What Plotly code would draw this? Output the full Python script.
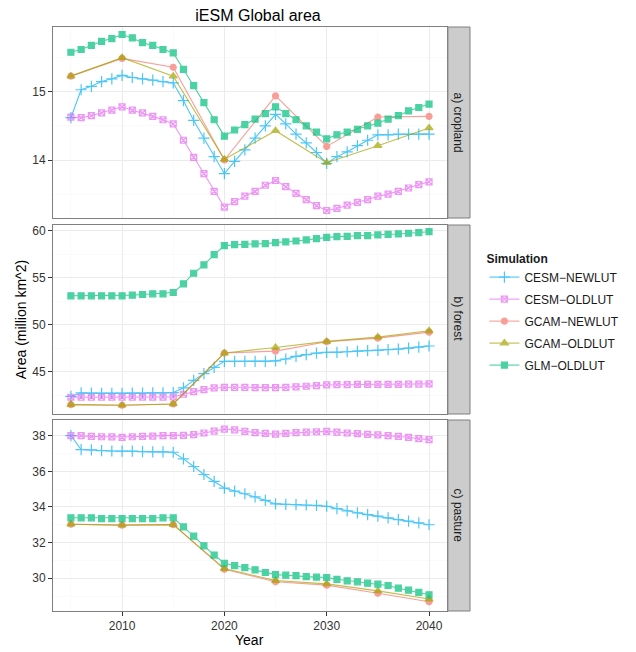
import plotly.graph_objects as go

# ---------------- data ----------------
years = list(range(2005, 2041))
gcam_years = [2005, 2010, 2015, 2020, 2025, 2030, 2035, 2040]

crop_cesm_new = [14.62, 15.03, 15.08, 15.15, 15.19, 15.24, 15.21, 15.19, 15.17, 15.15, 15.13,
                 14.87, 14.58, 14.32, 14.05, 13.80, 13.98, 14.15, 14.32, 14.50, 14.67,
                 14.53, 14.38, 14.25, 14.11, 13.95, 14.05, 14.12, 14.21, 14.29, 14.37,
                 14.37, 14.38, 14.38, 14.38, 14.38]
crop_cesm_old = [14.63, 14.62, 14.65, 14.69, 14.73, 14.78, 14.73, 14.69, 14.64, 14.59, 14.53,
                 14.29, 14.04, 13.80, 13.54, 13.31, 13.39, 13.47, 13.54, 13.63, 13.70,
                 13.61, 13.51, 13.42, 13.33, 13.26, 13.29, 13.34, 13.38, 13.42, 13.47,
                 13.50, 13.54, 13.59, 13.64, 13.68]
crop_gcam_new = [15.23, 15.49, 15.36, 14.00, 14.94, 14.20, 14.63, 14.64]
crop_gcam_old = [15.23, 15.50, 15.23, 14.01, 14.43, 13.96, 14.21, 14.47]
crop_glm_old = [15.58, 15.62, 15.68, 15.74, 15.78, 15.84, 15.79, 15.72, 15.68, 15.62, 15.57,
                15.33, 15.09, 14.84, 14.59, 14.35, 14.44, 14.52, 14.60, 14.68, 14.78,
                14.68, 14.59, 14.50, 14.41, 14.31, 14.37, 14.41, 14.45, 14.50, 14.54,
                14.60, 14.65, 14.72, 14.77, 14.82]

forest_cesm_new = [42.38, 42.74, 42.72, 42.70, 42.70, 42.70, 42.72, 42.72, 42.74, 42.74, 42.78,
                   43.27, 44.08, 44.79, 45.46, 46.10, 46.10, 46.10, 46.10, 46.10, 46.15,
                   46.35, 46.63, 46.81, 46.98, 47.05, 47.05, 47.12, 47.19, 47.23, 47.27,
                   47.34, 47.41, 47.51, 47.62, 47.73]
forest_cesm_old = [42.28, 42.28, 42.28, 42.28, 42.28, 42.28, 42.28, 42.30, 42.30, 42.30, 42.32,
                   42.60, 42.88, 43.09, 43.27, 43.34, 43.34, 43.34, 43.30, 43.30, 43.30,
                   43.34, 43.38, 43.45, 43.52, 43.59, 43.62, 43.62, 43.64, 43.64, 43.66,
                   43.66, 43.66, 43.68, 43.68, 43.70]
forest_gcam_new = [41.50, 41.43, 41.57, 46.98, 47.19, 48.18, 48.57, 49.21]
forest_gcam_old = [41.50, 41.43, 41.57, 46.98, 47.58, 48.22, 48.68, 49.35]
forest_glm_old = [53.07, 53.07, 53.07, 53.07, 53.07, 53.07, 53.14, 53.21, 53.28, 53.28, 53.42,
                  54.34, 55.47, 56.36, 57.45, 58.41, 58.51, 58.55, 58.59, 58.62, 58.73,
                  58.80, 58.90, 59.01, 59.15, 59.29, 59.36, 59.40, 59.47, 59.47, 59.54,
                  59.61, 59.65, 59.72, 59.79, 59.89]

past_cesm_new = [38.00, 37.22, 37.20, 37.16, 37.14, 37.13, 37.13, 37.11, 37.09, 37.09, 37.07,
                 36.70, 36.27, 35.82, 35.43, 35.06, 34.89, 34.74, 34.56, 34.37, 34.17,
                 34.15, 34.13, 34.11, 34.09, 34.04, 33.91, 33.78, 33.67, 33.57, 33.48,
                 33.39, 33.29, 33.20, 33.11, 33.00]
past_cesm_old = [38.00, 38.00, 37.96, 37.94, 37.93, 37.91, 37.94, 37.96, 37.98, 38.00, 38.00,
                 38.02, 38.06, 38.15, 38.26, 38.37, 38.33, 38.24, 38.17, 38.13, 38.09,
                 38.13, 38.17, 38.20, 38.22, 38.24, 38.20, 38.15, 38.11, 38.07, 38.04,
                 38.00, 37.96, 37.91, 37.83, 37.78]
past_gcam_new = [33.03, 32.98, 33.01, 30.50, 29.80, 29.61, 29.16, 28.68]
past_gcam_old = [33.03, 32.98, 33.01, 30.54, 29.87, 29.68, 29.29, 28.83]
past_glm_old = [33.39, 33.39, 33.39, 33.35, 33.35, 33.35, 33.35, 33.35, 33.35, 33.39, 33.39,
                32.88, 32.36, 31.82, 31.30, 30.84, 30.71, 30.60, 30.47, 30.32, 30.20,
                30.17, 30.15, 30.09, 30.06, 30.04, 29.94, 29.85, 29.80, 29.72, 29.67,
                29.59, 29.44, 29.33, 29.20, 29.07]

series_names = ["CESM\u2212NEWLUT", "CESM\u2212OLDLUT", "GCAM\u2212NEWLUT", "GCAM\u2212OLDLUT", "GLM\u2212OLDLUT"]
panel_labels = ["a) cropland", "b) forest", "c) pasture"]
x_ticks = [2010, 2020, 2030, 2040]

# ---------------- styling ----------------
colors = ["#00B0F6", "#E76BF3", "#F8766D", "#A3A500", "#00BF7D"]
symbols = ["cross-thin-open", "square-x-open", "circle", "triangle-up", "square"]
msizes = [8, 6, 6, 7, 6]
FONT = "Liberation Sans, Arial, sans-serif"

OFF = 8  # body margin of the html page
W, H = 636 - OFF, 652 - OFF


def sx(px):  # screen x -> figure x
    return px - OFF


def sy(py):  # screen y -> figure y
    return py - OFF


ML, MT = sx(53), sy(27)
plot_right = sx(487)
plot_bottom = sy(611)
MR, MB = W - plot_right, H - plot_bottom
plot_w = plot_right - ML
plot_h = plot_bottom - MT


def px_x(px):
    return (sx(px) - ML) / plot_w


def px_y(py):
    return (plot_bottom - sy(py)) / plot_h


panel_right_px = 463
xdom = [0, px_x(panel_right_px)]
panels_px = [(27, 218), (225, 414), (420, 611)]
ydoms = [[px_y(b), px_y(t)] for t, b in panels_px]

panel_data = [
    [(years, crop_cesm_new), (years, crop_cesm_old), (gcam_years, crop_gcam_new),
     (gcam_years, crop_gcam_old), (years, crop_glm_old)],
    [(years, forest_cesm_new), (years, forest_cesm_old), (gcam_years, forest_gcam_new),
     (gcam_years, forest_gcam_old), (years, forest_glm_old)],
    [(years, past_cesm_new), (years, past_cesm_old), (gcam_years, past_gcam_new),
     (gcam_years, past_gcam_old), (years, past_glm_old)],
]
yranges = [[13.15, 15.95], [40.5, 60.6], [28.16, 38.88]]
ydticks = [1, 5, 2]

fig = go.Figure()
for p in range(3):
    xa = "x" if p == 0 else f"x{p+1}"
    ya = "y" if p == 0 else f"y{p+1}"
    for i in range(5):
        xs, ys = panel_data[p][i]
        fig.add_trace(go.Scatter(
            x=xs, y=ys, mode="lines+markers", name=series_names[i],
            legendgroup=series_names[i], showlegend=(p == 0),
            xaxis=xa, yaxis=ya, opacity=0.7,
            line=dict(color=colors[i], width=1.1),
            marker=dict(symbol=symbols[i], size=msizes[i], color=colors[i],
                        line=dict(color=colors[i], width=1.2)),
        ))

layout = dict(
    width=W, height=H,
    margin=dict(l=ML, r=MR, t=MT, b=MB),
    paper_bgcolor="white", plot_bgcolor="white",
    font=dict(family=FONT, size=12, color="#1A1A1A"),
    showlegend=True,
    legend=dict(
        x=px_x(502), y=px_y(247), xanchor="left", yanchor="top",
        title=dict(text="<b>Simulation</b>", font=dict(size=12, color="#1A1A1A")),
        font=dict(size=12, color="#1A1A1A"),
        tracegroupgap=3, itemsizing="trace", bgcolor="rgba(0,0,0,0)",
    ),
    title=dict(text="iESM Global area", x=(sx(258)) / W, xanchor="center",
               y=1 - sy(15) / H, yanchor="middle",
               font=dict(size=16, color="#000000", family=FONT)),
)

for p in range(3):
    s = "" if p == 0 else str(p + 1)
    layout[f"xaxis{s}"] = dict(
        domain=xdom, range=[2003.25, 2041.75], anchor=f"y{s}",
        tickmode="array", tickvals=x_ticks, showticklabels=(p == 2),
        ticks="outside" if p == 2 else "", ticklen=4, tickcolor="#333333",
        tickfont=dict(size=12, color="#333333"),
        showgrid=True, gridcolor="#EBEBEB", gridwidth=1,
        minor=dict(tickvals=[2005, 2015, 2025, 2035], showgrid=True, gridcolor="#FAFAFA",
                   gridwidth=1, ticks=""),
        showline=True, linecolor="#7F7F7F", linewidth=1, mirror=True, zeroline=False,
    )
    layout[f"yaxis{s}"] = dict(
        domain=ydoms[p], range=yranges[p], anchor=f"x{s}",
        dtick=ydticks[p], tick0=0, ticks="outside", ticklen=4, tickcolor="#333333",
        tickfont=dict(size=12, color="#333333"),
        showgrid=True, gridcolor="#EBEBEB", gridwidth=1,
        minor=dict(dtick=ydticks[p] / 2, tick0=0, showgrid=True, gridcolor="#FAFAFA",
                   gridwidth=1, ticks=""),
        showline=True, linecolor="#7F7F7F", linewidth=1, mirror=True, zeroline=False,
    )

fig.update_layout(**layout)

# strips
strip_x0 = px_x(464)
strip_x1 = px_x(487)
for p in range(3):
    y0, y1 = ydoms[p]
    fig.add_shape(type="rect", xref="paper", yref="paper", x0=strip_x0, x1=strip_x1,
                  y0=y0, y1=y1, fillcolor="#CCCCCC", line=dict(color="#7F7F7F", width=1))
    fig.add_annotation(text=panel_labels[p], xref="paper", yref="paper",
                       x=(strip_x0 + strip_x1) / 2, y=(y0 + y1) / 2, textangle=90,
                       xanchor="center", yanchor="middle",
                       showarrow=False, font=dict(size=12, color="#1A1A1A"))

# axis titles
fig.add_annotation(text="Area (million km^2)", xref="paper", yref="paper",
                   x=px_x(20), y=px_y(320), textangle=-90,
                   xanchor="center", yanchor="middle",
                   showarrow=False, font=dict(size=14, color="#000000"))
fig.add_annotation(text="Year", xref="paper", yref="paper",
                   x=px_x(258), y=px_y(640), xanchor="center", yanchor="middle",
                   showarrow=False, font=dict(size=14, color="#000000"))

fig.write_html("out.html")
